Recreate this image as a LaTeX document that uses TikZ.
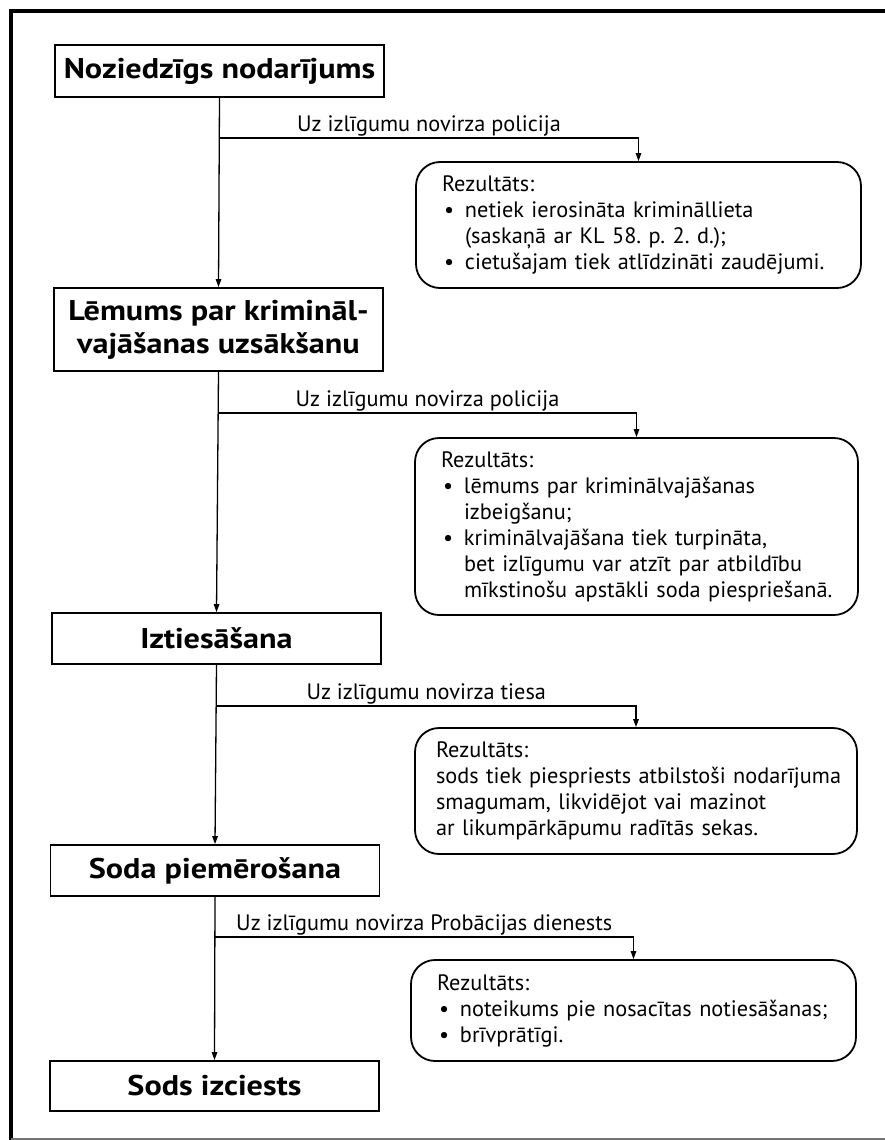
\documentclass[tikz,border=0pt]{standalone}
\usepackage{fontspec}
\setmainfont{PT Sans}
\newfontfamily\boxfont{PT Sans}[FakeStretch=1.13]
\usetikzlibrary{arrows.meta}
\newcommand{\bul}[1]{\makebox[23pt][l]{\hspace{2pt}\textbullet}#1}
\newcommand{\ind}[1]{\hspace*{23pt}#1}
\frenchspacing
\begin{document}
\begin{tikzpicture}[x=1pt,y=-1pt,
  stepbox/.style={draw, line width=1.8pt, minimum width=329pt, inner sep=0pt,
    font=\boxfont\fontsize{28.5}{33}\selectfont\bfseries, align=center},
  resbox/.style={draw, line width=1.8pt, rounded corners=24pt, inner ysep=0pt,
    align=left, font=\fontsize{22.3}{26}\selectfont},
  conn/.style={line width=1.3pt},
  arr/.style={conn, -{Triangle[length=8pt,width=5.5pt]}},
  lab/.style={font=\fontsize{22.3}{26}\selectfont, anchor=base, yshift=7pt, inner sep=0pt}]
\useasboundingbox (0,0) rectangle (885,1140);
% frame
\draw[line width=4pt] (11,1140) -- (11,11) -- (885,11);
\draw[line width=1.5pt, black!55] (11,1139) -- (885,1139);

% step boxes
\node[stepbox, minimum height=52pt] (B1) at (219.5,71) {Noziedzīgs nodarījums};
\node[stepbox, minimum height=83pt] (B2) at (218.5,329.5) {Lēmums par krimināl-\\vajāšanas uzsākšanu};
\node[stepbox, minimum height=51pt] (B3) at (216.5,638.5) {Iztiesāšana};
\node[stepbox, minimum height=51pt] (B4) at (215,870.5) {Soda piemērošana};
\node[stepbox, minimum height=50pt] (B5) at (214.5,1086) {Sods izciests};

% result boxes
\node[resbox, inner xsep=26pt, text width=393pt, minimum height=126pt] (R1) at (638.5,225)
  {\mbox{Rezultāts:}\\
   \mbox{\bul{netiek ierosināta krimināllieta}}\\
   \mbox{\ind{(saskaņā ar KL 58. p. 2. d.);}}\\
   \mbox{\bul{cietušajam tiek atlīdzināti zaudējumi.}}};
\node[resbox, inner xsep=26pt, text width=391pt, minimum height=177pt] (R2) at (636.5,526.5)
  {\mbox{Rezultāts:}\\
   \mbox{\bul{lēmums par kriminālvajāšanas}}\\
   \mbox{\ind{izbeigšanu;}}\\
   \mbox{\bul{kriminālvajāšana tiek turpināta,}}\\
   \mbox{\ind{bet izlīgumu var atzīt par atbildību}}\\
   \mbox{\ind{mīkstinošu apstākli soda piespriešanā.}}};
\node[resbox, inner xsep=21pt, text width=400pt, minimum height=126pt] (R3) at (636,791)
  {\mbox{Rezultāts:}\\
   \mbox{sods tiek piespriests atbilstoši nodarījuma}\\
   \mbox{smagumam, likvidējot vai mazinot}\\
   \mbox{ar likumpārkāpumu radītās sekas.}};
\node[resbox, inner xsep=26pt, text width=393pt, minimum height=101pt] (R4) at (633.5,1010.5)
  {\mbox{Rezultāts:}\\
   \mbox{\bul{noteikums pie nosacītas notiesāšanas;}}\\
   \mbox{\bul{brīvprātīgi.}}};

% junctions
\coordinate (j1) at (B1.south |- 0,138);
\coordinate (j2) at (B2.south |- 0,413);
\coordinate (j3) at (B3.south |- 0,706);
\coordinate (j4) at (B4.south |- 0,937);

% main flow
\draw[arr] (B1.south) -- (B2.north);
\draw[arr] (B2.south) -- (B3.north);
\draw[arr] (B3.south) -- (B4.north);
\draw[arr] (B4.south) -- (B5.north);

% branches
\draw[arr] (j1) -| node[lab, pos=0.25] (L1) {Uz izlīgumu novirza policija} (R1.north);
\draw[arr] (j2) -| node[lab, pos=0.25] (L2) {Uz izlīgumu novirza policija} (R2.north);
\draw[arr] (j3) -| node[lab, pos=0.25] (L3) {Uz izlīgumu novirza tiesa} (R3.north);
\draw[arr] (j4) -| node[lab, pos=0.25] (L4) {Uz izlīgumu novirza Probācijas dienests} (R4.north);
\end{tikzpicture}
\end{document}
